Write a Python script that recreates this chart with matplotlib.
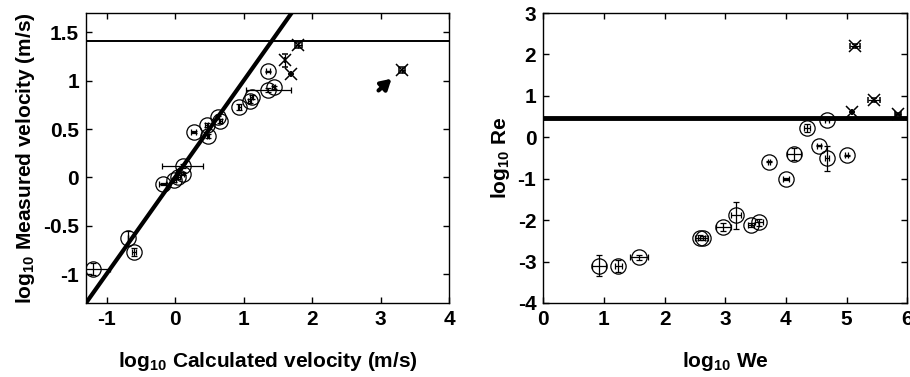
import numpy as np
import matplotlib
matplotlib.use('Agg')
import matplotlib.pyplot as plt

plt.rcParams['font.family'] = ['Liberation Sans', 'DejaVu Sans']
plt.rcParams['font.weight'] = 'bold'
plt.rcParams['mathtext.fontset'] = 'custom'
plt.rcParams['mathtext.rm'] = 'Liberation Sans:bold'
plt.rcParams['mathtext.bf'] = 'Liberation Sans:bold'
plt.rcParams['mathtext.default'] = 'bf'

# Left panel: calculated vs measured velocity (log10)
calc_circ = [-1.20, -0.69, -0.60, -0.18, -0.01, 0.05, 0.11, 0.11, 0.27, 0.46, 0.48,
             0.62, 0.66, 0.94, 1.09, 1.12, 1.36, 1.36, 1.44]
meas_circ = [-0.95, -0.63, -0.77, -0.065, -0.03, 0.0, 0.04, 0.12, 0.47, 0.545, 0.43,
             0.62, 0.58, 0.73, 0.79, 0.835, 1.10, 0.90, 0.93]
calc_circ_err = [0.25, 0.0, 0.03, 0.05, 0.02, 0.02, 0.02, 0.30, 0.04, 0.02, 0.02,
                 0.02, 0.02, 0.02, 0.02, 0.02, 0.03, 0.33, 0.02]
meas_circ_err = [0.06, 0.08, 0.04, 0.01, 0.02, 0.02, 0.02, 0.02, 0.01, 0.02, 0.02,
                 0.02, 0.02, 0.03, 0.02, 0.02, 0.005, 0.02, 0.02]

calc_x = [1.80, 1.61, 1.69, 3.31]
meas_x = [1.37, 1.21, 1.07, 1.11]
calc_x_err = [0.05, 0.0, 0.0, 0.04]
meas_x_err = [0.03, 0.07, 0.0, 0.03]

limit_velocity = 1.41

# Right panel: We vs Re (log10)
we_circ = [0.92, 1.24, 1.58, 2.58, 2.63, 2.97, 3.18, 3.43, 3.56, 3.72, 4.00,
           4.13, 4.35, 4.54, 4.68, 4.68, 5.00]
re_circ = [-3.10, -3.10, -2.90, -2.42, -2.43, -2.17, -1.88, -2.12, -2.05, -0.59, -1.00,
           -0.40, 0.22, -0.20, -0.51, 0.43, -0.43]
we_circ_err = [0.12, 0.05, 0.15, 0.08, 0.08, 0.12, 0.08, 0.05, 0.07, 0.02, 0.05,
               0.12, 0.05, 0.03, 0.03, 0.03, 0.03]
re_circ_err = [0.25, 0.15, 0.07, 0.05, 0.05, 0.10, 0.33, 0.05, 0.08, 0.01, 0.02,
               0.15, 0.10, 0.01, 0.30, 0.01, 0.01]

we_x = [5.14, 5.09, 5.45, 5.84]
re_x = [2.20, 0.60, 0.90, 0.565]
we_x_err = [0.08, 0.0, 0.10, 0.05]
re_x_err = [0.05, 0.0, 0.05, 0.02]

limit_re = 0.47

fig = plt.figure(figsize=(9.1, 3.77), dpi=100)
ax1 = fig.add_axes([0.0945, 0.1963, 0.399, 0.769])
ax2 = fig.add_axes([0.597, 0.1963, 0.400, 0.769])

circ = dict(fmt='o', ms=11, mfc='none', mec='black', mew=0.9, ecolor='black',
            elinewidth=0.9, capsize=2.5, capthick=0.9, color='black')
cross = dict(fmt='x', ms=8, mec='black', mew=1.1, ecolor='black',
             elinewidth=0.9, capsize=2.5, capthick=0.9, color='black')

# left
ax1.errorbar(calc_circ, meas_circ, xerr=calc_circ_err, yerr=meas_circ_err, **circ)
ax1.errorbar(calc_x, meas_x, xerr=calc_x_err, yerr=meas_x_err, **cross)
diag = np.array([-1.3, 1.7])
ax1.plot(diag, diag, color='black', lw=3)
ax1.axhline(limit_velocity, color='black', lw=1.4)
ax1.annotate('', xy=(3.19, 1.04), xytext=(2.94, 0.88),
             arrowprops=dict(arrowstyle='-|>,head_length=0.6,head_width=0.35',
                             color='black', lw=3))
ax1.set_xlim(-1.3, 4)
ax1.set_ylim(-1.3, 1.7)
ax1.set_xticks([-1, 0, 1, 2, 3, 4])
ax1.set_yticks([-1, -0.5, 0, 0.5, 1, 1.5])
ax1.set_yticklabels(['-1', '-0.5', '0', '0.5', '1', '1.5'])
ax1.set_xticklabels(['-1', '0', '1', '2', '3', '4'])
ax1.set_xlabel(r'log$_{10}$ Calculated velocity (m/s)', fontsize=15, fontweight='bold', labelpad=15)
ax1.set_ylabel(r'log$_{10}$ Measured velocity (m/s)', fontsize=15, fontweight='bold', labelpad=4)

# right
ax2.errorbar(we_circ, re_circ, xerr=we_circ_err, yerr=re_circ_err, **circ)
ax2.errorbar(we_x, re_x, xerr=we_x_err, yerr=re_x_err, **cross)
ax2.axhline(limit_re, color='black', lw=3.5)
ax2.set_xlim(0, 6)
ax2.set_ylim(-4, 3)
ax2.set_xticks(range(0, 7))
ax2.set_yticks(range(-4, 4))
ax2.set_yticklabels([str(v) for v in range(-4, 4)])
ax2.set_xlabel(r'log$_{10}$ We', fontsize=15, fontweight='bold', labelpad=15)
ax2.set_ylabel(r'log$_{10}$ Re', fontsize=15, fontweight='bold', labelpad=4)

for ax in (ax1, ax2):
    ax.tick_params(direction='in', length=4, width=1, top=True, right=True,
                   labelsize=15, pad=5)
    for lab in ax.get_xticklabels() + ax.get_yticklabels():
        lab.set_fontweight('bold')
    for sp in ax.spines.values():
        sp.set_linewidth(1.0)

fig.savefig('out.png', dpi=100)
